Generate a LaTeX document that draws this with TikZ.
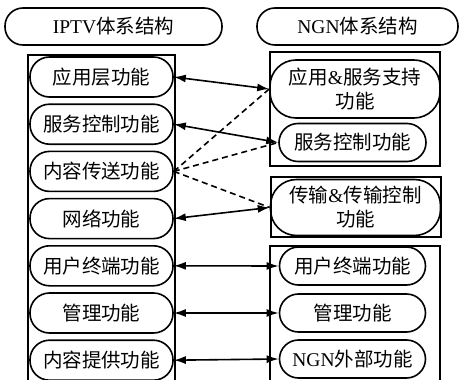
\documentclass[tikz,border=0pt]{standalone}
\usepackage{fontspec}
\usepackage{tikz}
\usetikzlibrary{arrows.meta, positioning}
\setmainfont{Noto Sans CJK SC}
\newfontfamily\lat{Liberation Serif}

\begin{document}
\begin{tikzpicture}[x=1pt,y=-1pt,>={Latex[length=12pt,width=8pt]},
      line width=1.6pt,node distance=47.2pt,
      every node/.style={font=\fontsize{19.5}{24}\selectfont},
      head node/.style={draw,rounded corners=18pt,minimum height=37pt,inner sep=0pt},
      main node/.style={draw,rounded corners=19.5pt,minimum height=40pt,minimum width=143pt,inner sep=0pt},
      side node/.style={draw,rounded corners=19pt,minimum height=38pt,minimum width=146pt,inner sep=0pt},
      big node/.style={draw,rounded corners=26pt,minimum height=56pt,minimum width=170pt,inner sep=0pt,align=center},
      frame/.style={draw}]

    \useasboundingbox (0,0) rectangle (461,380);
    \clip (0,0) rectangle (461,380);

    % headers
    \node[head node,minimum width=217pt] (h1) at (113.5,26.5) {{\lat IPTV}体系结构};
    \node[head node,minimum width=201pt] (h2) at (357.5,26.5) {{\lat NGN}体系结构};

    % frames
    \draw[frame] (28,55) rectangle (175,395);
    \draw[frame] (270,52) rectangle (440,166);
    \draw[frame] (271,177) rectangle (441,237);
    \draw[frame] (270,246) rectangle (440,395);

    % IPTV side
    \node[main node] (l1) at (101.5,77) {应用层功能};
    \node[main node] (l2) [below of=l1] {服务控制功能};
    \node[main node] (l3) [below of=l2] {内容传送功能};
    \node[main node] (l4) [below of=l3] {网络功能};
    \node[main node] (l5) [below of=l4] {用户终端功能};
    \node[main node] (l6) [below of=l5] {管理功能};
    \node[main node] (l7) [below of=l6] {内容提供功能};

    % NGN side
    \node[big node,minimum height=58pt] (r1) at (355,89) {应用{\lat\&}服务支持\\功能};
    \node[side node,minimum width=147pt] (r2) at (352.5,142.5) {服务控制功能};
    \node[big node] (r3) at (355.5,207.5) {传输{\lat\&}传输控制\\功能};
    \node[side node] (r4) at (352.5,266) {用户终端功能};
    \node[side node] (r5) [below of=r4,node distance=47pt] {管理功能};
    \node[side node] (r6) [below of=r5,node distance=46pt] {{\lat NGN}外部功能};

    \path[<->]
        (l1.east) edge (r1.west)
        (l2.east) edge (r2.west)
        (l4.east) edge (r3.west)
        (l5.east) edge (r4.west)
        (l6.east) edge (r5.west)
        (l7.east) edge (r6.west)
    ;
    \path[dashed,dash pattern=on 6pt off 4pt]
        (l3.east) edge (r1.west)
        (l3.east) edge (r2.west)
        (l3.east) edge (r3.west)
    ;
\end{tikzpicture}
\end{document}
